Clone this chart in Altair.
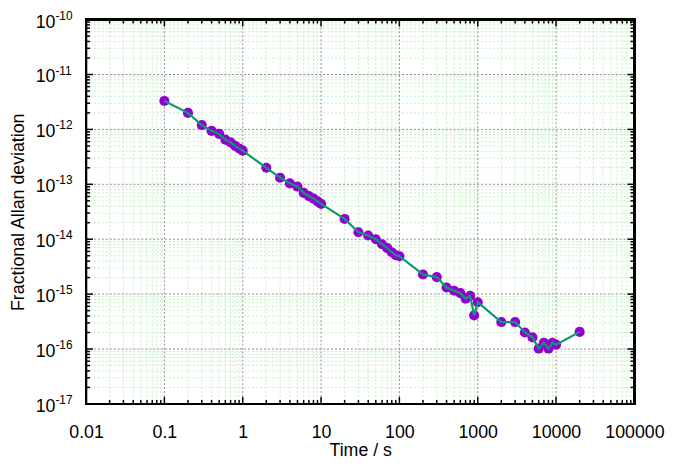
import altair as alt
import pandas as pd

# ---- data ----
tau = [0.1, 0.2, 0.3, 0.4, 0.5, 0.6, 0.7, 0.8, 0.9, 1,
       2, 3, 4, 5, 6, 7, 8, 9, 10,
       20, 30, 40, 50, 60, 70, 80, 90, 100,
       200, 300, 400, 500, 600, 700, 800, 900, 1000,
       2000, 3000, 4000, 5000, 6000, 7000, 8000, 9000, 10000, 20000]
adev = [3.3e-12, 2.0e-12, 1.2e-12, 9.4e-13, 8.3e-13, 6.5e-13, 5.8e-13, 5.0e-13, 4.5e-13, 4.1e-13,
        2.0e-13, 1.32e-13, 1.04e-13, 9.1e-14, 7.0e-14, 6.1e-14, 5.5e-14, 4.9e-14, 4.4e-14,
        2.34e-14, 1.34e-14, 1.17e-14, 1.0e-14, 8.1e-15, 6.9e-15, 5.8e-15, 5.1e-15, 4.9e-15,
        2.28e-15, 2.04e-15, 1.32e-15, 1.15e-15, 1.04e-15, 8.3e-16, 9.3e-16, 4.1e-16, 7.1e-16,
        3.1e-16, 3.1e-16, 2.0e-16, 1.63e-16, 1.02e-16, 1.3e-16, 1.02e-16, 1.3e-16, 1.2e-16, 2.05e-16]

x_major = [0.01, 0.1, 1, 10, 100, 1000, 10000, 100000]
x_labels = ["0.01", "0.1", "1", "10", "100", "1000", "10000", "100000"]
y_major = [1e-17, 1e-16, 1e-15, 1e-14, 1e-13, 1e-12, 1e-11, 1e-10]
y_exps = ["-17", "-16", "-15", "-14", "-13", "-12", "-11", "-10"]
mantissas = [2, 3, 4, 5, 6, 7, 8, 9]

x_minor = [m * d for d in x_major[:-1] for m in mantissas]
y_minor = [m * d for d in y_major[:-1] for m in mantissas]

W, H = 555, 389
FONT = "Liberation Sans"

xs = alt.Scale(type="log", domain=[0.01, 100000])
ys = alt.Scale(type="log", domain=[1e-17, 1e-10])

xaxis = alt.Axis(values=x_major,
                 labelExpr="datum.value < 1 ? format(datum.value, '~g') : format(datum.value, 'd')",
                 ticks=False, domain=False, grid=False, labelFlush=False, labelOverlap=False,
                 labelBound=False, labelFont=FONT, labelFontSize=18, labelColor="black",
                 labelPadding=20, title="Time / s", titleFont=FONT, titleFontSize=18,
                 titleFontWeight="normal", titleColor="black", titleY=47, titleBaseline="middle")
yaxis = alt.Axis(values=y_major, labels=False, ticks=False, domain=False, grid=False,
                 title="Fractional Allan deviation", titleFont=FONT, titleFontSize=18,
                 titleFontWeight="normal", titleColor="black", titleX=-68, titleY=H / 2,
                 titleAngle=-90, titleBaseline="middle", titleAlign="center")

X = lambda: alt.X("v:Q", scale=xs, axis=xaxis)
Y = lambda: alt.Y("v:Q", scale=ys, axis=yaxis)

dxmin = pd.DataFrame({"v": x_minor})
dymin = pd.DataFrame({"v": y_minor})
dxmaj = pd.DataFrame({"v": x_major})
dymaj = pd.DataFrame({"v": y_major, "e": y_exps})
dxmaj_in = pd.DataFrame({"v": x_major[1:-1]})
dymaj_in = pd.DataFrame({"v": y_major[1:-1]})
data = pd.DataFrame({"t": tau, "a": adev})

minor_grid_col = "#c2f0c2"
major_grid_col = "#8c8c8c"

gxmin = alt.Chart(dxmin).mark_rule(color=minor_grid_col, strokeDash=[2, 2], strokeWidth=1).encode(
    x=X(), y=alt.value(0), y2=alt.value(H))
gymin = alt.Chart(dymin).mark_rule(color=minor_grid_col, strokeDash=[2, 2], strokeWidth=1).encode(
    y=Y(), x=alt.value(0), x2=alt.value(W))
gxmaj = alt.Chart(dxmaj_in).mark_rule(color=major_grid_col, strokeDash=[2, 2], strokeWidth=1).encode(
    x=X(), y=alt.value(0), y2=alt.value(H))
gymaj = alt.Chart(dymaj_in).mark_rule(color=major_grid_col, strokeDash=[2, 2], strokeWidth=1).encode(
    y=Y(), x=alt.value(0), x2=alt.value(W))

TM, Tm = 7, 4
tick_layers = []
for df, L in ((dxmaj, TM), (dxmin, Tm)):
    tick_layers.append(alt.Chart(df).mark_rule(color="black", strokeWidth=1.5).encode(
        x=X(), y=alt.value(H), y2=alt.value(H - L)))
    tick_layers.append(alt.Chart(df).mark_rule(color="black", strokeWidth=1.5).encode(
        x=X(), y=alt.value(0), y2=alt.value(L)))
for df, L in ((dymaj, TM), (dymin, Tm)):
    tick_layers.append(alt.Chart(df).mark_rule(color="black", strokeWidth=1.5).encode(
        y=Y(), x=alt.value(0), x2=alt.value(L)))
    tick_layers.append(alt.Chart(df).mark_rule(color="black", strokeWidth=1.5).encode(
        y=Y(), x=alt.value(W), x2=alt.value(W - L)))

pts = alt.Chart(data).mark_point(filled=True, opacity=1, size=105, color="#9400d3").encode(
    x=alt.X("t:Q", scale=xs, axis=xaxis), y=alt.Y("a:Q", scale=ys, axis=yaxis))
line = alt.Chart(data).mark_line(color="#0a9a72", strokeWidth=2.2).encode(
    x=alt.X("t:Q", scale=xs, axis=xaxis), y=alt.Y("a:Q", scale=ys, axis=yaxis), order="t:Q")

lab10 = alt.Chart(dymaj).mark_text(font=FONT, fontSize=18, align="right", baseline="middle",
                                   color="black", dy=3).encode(
    y=Y(), x=alt.value(-31), text=alt.value("10"))
labexp = alt.Chart(dymaj).mark_text(font=FONT, fontSize=12, align="left", baseline="middle",
                                    color="black", dy=-4).encode(
    y=Y(), x=alt.value(-31), text="e:N")

frame = alt.Chart(dxmaj).mark_rect(fill=None, fillOpacity=0, stroke="black", strokeWidth=2).encode(
    x=alt.value(0), x2=alt.value(W), y=alt.value(0), y2=alt.value(H))

chart = alt.layer(gxmin, gymin, gxmaj, gymaj, *tick_layers, pts, line, lab10, labexp, frame).properties(
    width=W, height=H,
    padding={"left": 79, "top": 9, "right": 33, "bottom": 53},
    autosize=alt.AutoSizeParams(type="none"),
).configure_view(stroke=None).configure(background="white")

chart.save("out.html", embed_options={"renderer": "svg", "actions": False})
